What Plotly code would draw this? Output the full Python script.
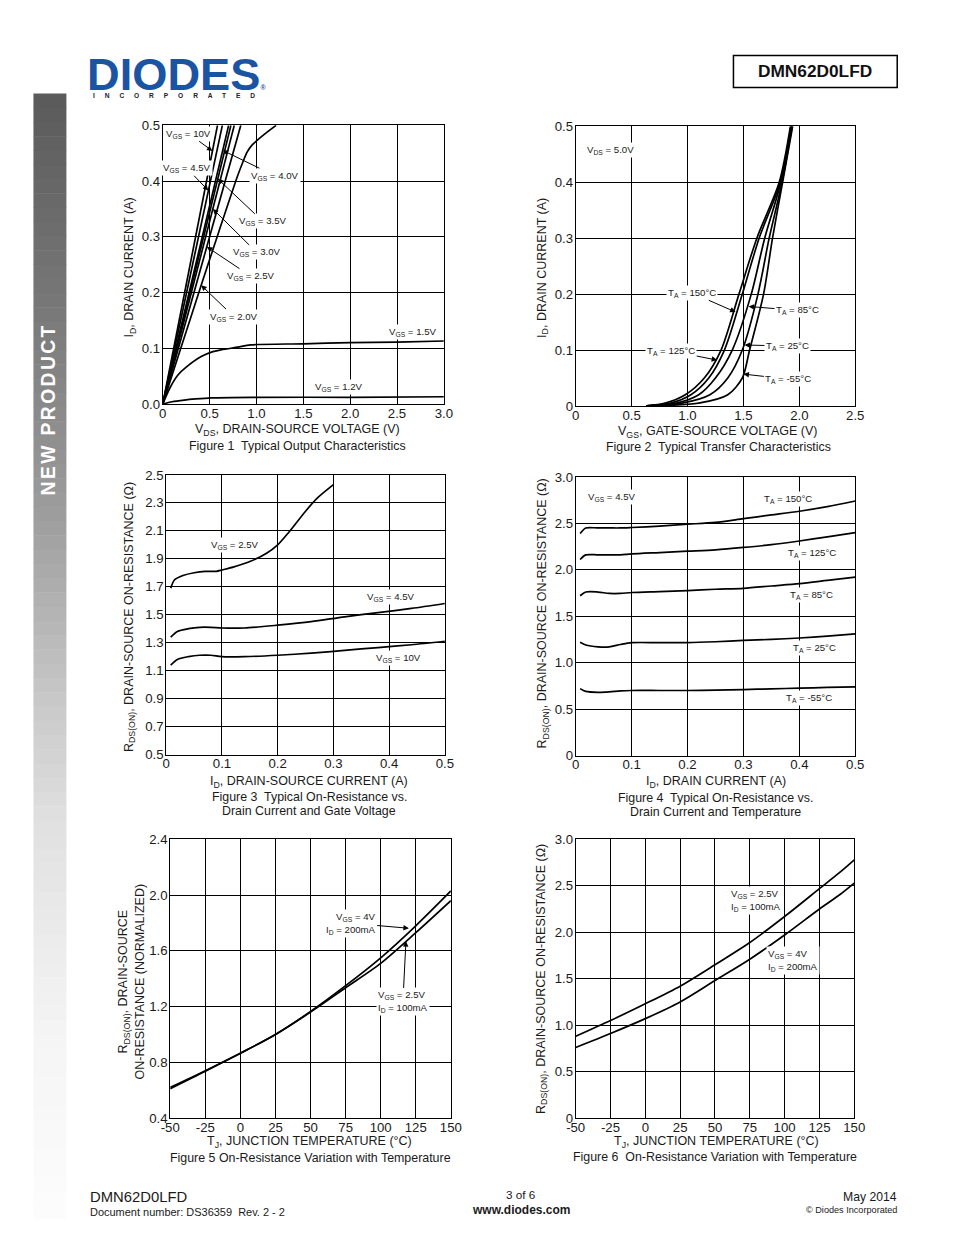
import plotly.graph_objects as go

# page is 954x1235; the browser adds an 8px body margin, so the figure is 938x1219
OFF = 8
W, H = 954 - 2 * OFF, 1235 - 2 * OFF
# measured photo transform (photo = S * page + O); positions below are photo targets
SX, OX = 0.979, 8.7
SY, OY = 0.989, 6.6
FS = 1 / 0.984
FONT = "Liberation Sans, Arial, sans-serif"
TXT = "#1a1a1a"

# ---------------- data ----------------
# Figure 1: Typical output characteristics (VDS [V], ID [A])
f1_vds_10v = [0, 0.584];  f1_id_10v = [0, 0.5]
f1_vds_4v5 = [0, 0.636];  f1_id_4v5 = [0, 0.5]
f1_vds_4v0 = [0, 0.703];  f1_id_4v0 = [0, 0.5]
f1_vds_3v5 = [0, 0.727];  f1_id_3v5 = [0, 0.5]
f1_vds_3v0 = [0, 0.763];  f1_id_3v0 = [0, 0.5]
f1_vds_2v5 = [0, 0.833];  f1_id_2v5 = [0, 0.5]
f1_vds_2v0 = [0, 0.2, 0.41, 0.6, 0.8, 0.85, 0.9, 0.95, 1.0, 1.1, 1.21]
f1_id_2v0 = [0, 0.104, 0.213, 0.31, 0.41, 0.432, 0.452, 0.464, 0.472, 0.486, 0.5]
f1_vds_1v5 = [0, 0.08, 0.162, 0.25, 0.41, 0.52, 0.62, 0.8, 0.94, 1.5, 2.0, 2.5, 3.0]
f1_id_1v5 = [0, 0.03, 0.052, 0.066, 0.085, 0.093, 0.097, 0.102, 0.106, 0.108, 0.110, 0.111, 0.113]
f1_vds_1v2 = [0, 0.1, 0.23, 0.35, 0.52, 1.0, 2.0, 3.0]
f1_id_1v2 = [0, 0.004, 0.007, 0.009, 0.011, 0.012, 0.012, 0.013]

# Figure 2: Typical transfer characteristics (VGS [V], ID [A])
f2_id = [0, 0.005, 0.02, 0.05, 0.1, 0.2, 0.3, 0.4, 0.5]
f2_vgs_150 = [0.63, 0.80, 0.98, 1.15, 1.30, 1.46, 1.62, 1.82, 1.92]
f2_vgs_125 = [0.63, 0.85, 1.03, 1.19, 1.33, 1.49, 1.64, 1.83, 1.925]
f2_vgs_85 = [0.63, 0.90, 1.10, 1.25, 1.40, 1.57, 1.69, 1.835, 1.93]
f2_vgs_25 = [0.63, 0.95, 1.20, 1.36, 1.49, 1.63, 1.73, 1.845, 1.935]
f2_vgs_m55 = [0.63, 1.10, 1.36, 1.49, 1.555, 1.68, 1.76, 1.85, 1.94]

# Figure 3: RDS(on) vs ID and VGS
f3_id_2v5 = [0.008, 0.015, 0.03, 0.05, 0.07, 0.09, 0.1, 0.12, 0.15, 0.18, 0.2, 0.22, 0.25, 0.27, 0.3]
f3_r_2v5 = [1.69, 1.75, 1.78, 1.80, 1.81, 1.81, 1.82, 1.84, 1.88, 1.94, 2.00, 2.09, 2.24, 2.33, 2.43]
f3_id = [0.008, 0.02, 0.04, 0.06, 0.08, 0.1, 0.14, 0.2, 0.26, 0.32, 0.38, 0.44, 0.5]
f3_r_4v5 = [1.34, 1.38, 1.40, 1.41, 1.41, 1.405, 1.405, 1.425, 1.45, 1.485, 1.515, 1.545, 1.58]
f3_r_10v = [1.14, 1.18, 1.20, 1.21, 1.21, 1.20, 1.20, 1.21, 1.225, 1.245, 1.265, 1.285, 1.31]

# Figure 4: RDS(on) vs ID and temperature
f4_id = [0.008, 0.018, 0.04, 0.06, 0.08, 0.1, 0.15, 0.2, 0.25, 0.3, 0.35, 0.4, 0.45, 0.5]
f4_r_150 = [2.39, 2.45, 2.45, 2.45, 2.45, 2.455, 2.47, 2.49, 2.51, 2.55, 2.59, 2.63, 2.68, 2.74]
f4_r_125 = [2.11, 2.16, 2.16, 2.16, 2.16, 2.17, 2.185, 2.20, 2.215, 2.24, 2.27, 2.31, 2.355, 2.40]
f4_r_85 = [1.72, 1.76, 1.76, 1.745, 1.745, 1.755, 1.765, 1.775, 1.79, 1.80, 1.825, 1.85, 1.885, 1.92]
f4_r_25 = [1.22, 1.19, 1.17, 1.17, 1.195, 1.215, 1.215, 1.215, 1.225, 1.24, 1.25, 1.265, 1.285, 1.31]
f4_r_m55 = [0.72, 0.69, 0.68, 0.685, 0.695, 0.70, 0.70, 0.70, 0.705, 0.71, 0.718, 0.725, 0.733, 0.74]

# Figure 5: normalized RDS(on) vs temperature
f5_tj = [-50, -25, 0, 25, 50, 75, 100, 125, 150]
f5_r_4v = [0.61, 0.735, 0.865, 1.0, 1.165, 1.35, 1.55, 1.78, 2.03]
f5_r_2v5 = [0.62, 0.74, 0.865, 1.0, 1.16, 1.335, 1.51, 1.73, 1.96]

# Figure 6: RDS(on) vs temperature
f6_tj = [-50, -25, 0, 25, 50, 75, 100, 125, 140, 150]
f6_r_2v5 = [0.88, 1.05, 1.23, 1.42, 1.65, 1.89, 2.17, 2.47, 2.65, 2.78]
f6_r_4v = [0.76, 0.91, 1.07, 1.25, 1.48, 1.71, 1.97, 2.25, 2.41, 2.53]

# tick labels
t1x = [0, 0.5, 1.0, 1.5, 2.0, 2.5, 3.0]; t1xl = ["0", "0.5", "1.0", "1.5", "2.0", "2.5", "3.0"]
t1y = [0, 0.1, 0.2, 0.3, 0.4, 0.5]; t1yl = ["0.0", "0.1", "0.2", "0.3", "0.4", "0.5"]
t2x = [0, 0.5, 1.0, 1.5, 2.0, 2.5]; t2xl = ["0", "0.5", "1.0", "1.5", "2.0", "2.5"]
t2y = [0, 0.1, 0.2, 0.3, 0.4, 0.5]; t2yl = ["0", "0.1", "0.2", "0.3", "0.4", "0.5"]
t3x = [0, 0.1, 0.2, 0.3, 0.4, 0.5]; t3xl = ["0", "0.1", "0.2", "0.3", "0.4", "0.5"]
t3y = [0.5, 0.7, 0.9, 1.1, 1.3, 1.5, 1.7, 1.9, 2.1, 2.3, 2.5]
t3yl = ["0.5", "0.7", "0.9", "1.1", "1.3", "1.5", "1.7", "1.9", "2.1", "2.3", "2.5"]
t4y = [0, 0.5, 1.0, 1.5, 2.0, 2.5, 3.0]; t4yl = ["0", "0.5", "1.0", "1.5", "2.0", "2.5", "3.0"]
t5x = [-50, -25, 0, 25, 50, 75, 100, 125, 150]
t5xl = ["-50", "-25", "0", "25", "50", "75", "100", "125", "150"]
t5y = [0.4, 0.8, 1.2, 1.6, 2.0, 2.4]; t5yl = ["0.4", "0.8", "1.2", "1.6", "2.0", "2.4"]

# ---------------- layout helpers ----------------
def page_x(p):
    return (p - OX) / SX

def page_y(p):
    return (p - OY) / SY

def px_x(p):
    return (page_x(p) - OFF) / W

def px_y(p):
    return 1 - (page_y(p) - OFF) / H

def fs(s):
    return round(s * FS, 2)

fig = go.Figure()
layout = dict(width=W, height=H, margin=dict(l=0, r=0, t=0, b=0),
              paper_bgcolor="white", plot_bgcolor="white", showlegend=False,
              font=dict(family=FONT, color=TXT))
annotations = []
shapes = []

def add_axes(n, box, xr, yr, xt, xtl, yt, ytl):
    x0, x1, y0, y1 = box
    xs = "xaxis" if n == 1 else f"xaxis{n}"
    ys = "yaxis" if n == 1 else f"yaxis{n}"
    common = dict(showgrid=True, gridcolor="black", gridwidth=1, showline=True,
                  linecolor="black", linewidth=1, mirror=True, ticks="",
                  zeroline=False, fixedrange=True,
                  tickfont=dict(family=FONT, size=fs(13), color=TXT))
    layout[xs] = dict(domain=[px_x(x0), px_x(x1)], range=xr, tickvals=xt, ticktext=xtl,
                      anchor="y" if n == 1 else f"y{n}", ticklabelstandoff=-3, **common)
    layout[ys] = dict(domain=[px_y(y1), px_y(y0)], range=yr, tickvals=yt, ticktext=ytl,
                      anchor="x" if n == 1 else f"x{n}", ticklabelstandoff=-1, **common)

def line(n, x, y, shape="linear"):
    xa = "x" if n == 1 else f"x{n}"
    ya = "y" if n == 1 else f"y{n}"
    fig.add_trace(go.Scatter(x=x, y=y, mode="lines", xaxis=xa, yaxis=ya,
                             line=dict(color="black", width=1.7, shape=shape, smoothing=0.8),
                             hoverinfo="skip"))

def label(n, x, y, text, ax=None, ay=None, xanchor="center", align="center", size=9.5):
    xa = "x" if n == 1 else f"x{n}"
    ya = "y" if n == 1 else f"y{n}"
    a = dict(xref=xa, yref=ya, x=x, y=y, text=text,
             font=dict(family=FONT, size=fs(size), color=TXT),
             bgcolor="white", borderpad=1, xanchor=xanchor, align=align)
    if ax is None:
        a["showarrow"] = False
    else:
        a.update(showarrow=True, ax=ax / SX, ay=ay / SY, arrowhead=2, arrowsize=1.1,
                 arrowwidth=1, arrowcolor="black", standoff=0)
    annotations.append(a)

def ptext(px, py, text, size=12.3, angle=0, xanchor="center", bold=False, color=TXT,
          align="center", height=None):
    a = dict(xref="paper", yref="paper", x=px_x(px), y=px_y(py), text=text,
             showarrow=False, textangle=angle, xanchor=xanchor, yanchor="middle",
             align=align,
             font=dict(family=FONT, size=fs(size), color=color,
                       weight="bold" if bold else "normal"))
    if height is not None:
        a["height"] = height
        a["valign"] = "middle"
    annotations.append(a)

# ---------------- Figure 1 ----------------
add_axes(1, (161.5, 443, 125, 404), [0, 3.0], [0, 0.5], t1x, t1xl, t1y, t1yl)
for xv, yv in [(f1_vds_10v, f1_id_10v), (f1_vds_4v5, f1_id_4v5), (f1_vds_4v0, f1_id_4v0),
               (f1_vds_3v5, f1_id_3v5), (f1_vds_3v0, f1_id_3v0), (f1_vds_2v5, f1_id_2v5)]:
    line(1, xv, yv)
line(1, f1_vds_2v0, f1_id_2v0, "spline")
line(1, f1_vds_1v5, f1_id_1v5, "spline")
line(1, f1_vds_1v2, f1_id_1v2, "spline")
VGS = "V<sub>GS</sub> = "
label(1, 0.53, 0.454, VGS + "10V", -23, -17)
label(1, 0.487, 0.383, VGS + "4.5V", -21, -22)
label(1, 0.64, 0.455, VGS + "4.0V", 51, 25)
label(1, 0.587, 0.404, VGS + "3.5V", 44, 42)
label(1, 0.534, 0.35, VGS + "3.0V", 43, 43)
label(1, 0.47, 0.282, VGS + "2.5V", 43, 29)
label(1, 0.41, 0.213, VGS + "2.0V", 32, 31)
label(1, 2.67, 0.129, VGS + "1.5V")
label(1, 1.886, 0.03, VGS + "1.2V")

# ---------------- Figure 2 ----------------
add_axes(2, (575, 855, 126, 406), [0, 2.5], [0, 0.5], t2x, t2xl, t2y, t2yl)
for xv in [f2_vgs_150, f2_vgs_125, f2_vgs_85, f2_vgs_25, f2_vgs_m55]:
    line(2, xv, f2_id, "spline")
TA = "T<sub>A</sub> = "
label(2, 0.08, 0.457, "V<sub>DS</sub> = 5.0V", xanchor="left")
label(2, 1.43, 0.168, TA + "150°C", -43, -19)
label(2, 1.265, 0.082, TA + "125°C", -45, -9)
label(2, 1.545, 0.178, TA + "85°C", 48, 4)
label(2, 1.51, 0.109, TA + "25°C", 42, 1)
label(2, 1.50, 0.057, TA + "-55°C", 44, 5)

# ---------------- Figure 3 ----------------
add_axes(3, (165, 444, 475, 755), [0, 0.5], [0.5, 2.5], t3x, t3xl, t3y, t3yl)
line(3, f3_id_2v5, f3_r_2v5, "spline")
line(3, f3_id, f3_r_4v5, "spline")
line(3, f3_id, f3_r_10v, "spline")
label(3, 0.124, 2.0, VGS + "2.5V")
label(3, 0.403, 1.629, VGS + "4.5V")
label(3, 0.416, 1.193, VGS + "10V")

# ---------------- Figure 4 ----------------
add_axes(4, (575, 855, 477, 756), [0, 0.5], [0, 3.0], t3x, t3xl, t4y, t4yl)
for yv in [f4_r_150, f4_r_125, f4_r_85, f4_r_25, f4_r_m55]:
    line(4, f4_id, yv, "spline")
label(4, 0.018, 2.785, "V<sub>GS</sub> = 4.5V", xanchor="left")
label(4, 0.379, 2.763, TA + "150°C")
label(4, 0.423, 2.183, TA + "125°C")
label(4, 0.421, 1.731, TA + "85°C")
label(4, 0.427, 1.161, TA + "25°C")
label(4, 0.418, 0.624, TA + "-55°C")

# ---------------- Figure 5 ----------------
add_axes(5, (169, 450, 840, 1119), [-50, 150], [0.4, 2.4], t5x, t5xl, t5y, t5yl)
line(5, f5_tj, f5_r_4v, "spline")
line(5, f5_tj, f5_r_2v5, "spline")
label(5, 120.1, 1.762, "V<sub>GS</sub> = 4V<br>I<sub>D</sub> = 200mA", -57, -5, align="right")
label(5, 118, 1.669, "V<sub>GS</sub> = 2.5V<br>I<sub>D</sub> = 100mA", -3, 60, align="left")

# ---------------- Figure 6 ----------------
add_axes(6, (575, 854, 840, 1119), [-50, 150], [0, 3.0], t5x, t5xl, t4y, t4yl)
line(6, f6_tj, f6_r_2v5, "spline")
line(6, f6_tj, f6_r_4v, "spline")
label(6, 79.7, 2.344, "V<sub>GS</sub> = 2.5V<br>I<sub>D</sub> = 100mA", align="left")
label(6, 106.3, 1.694, "V<sub>GS</sub> = 4V<br>I<sub>D</sub> = 200mA", align="left")

# ---------------- axis titles & captions ----------------
ptext(296, 430, "V<sub>DS</sub>, DRAIN-SOURCE VOLTAGE (V)")
ptext(718, 432, "V<sub>GS</sub>, GATE-SOURCE VOLTAGE (V)")
ptext(308, 783, "I<sub>D</sub>, DRAIN-SOURCE CURRENT (A)")
ptext(716, 783, "I<sub>D</sub>, DRAIN CURRENT (A)")
ptext(308, 1143, "T<sub>J</sub>, JUNCTION TEMPERATURE (°C)")
ptext(716, 1143, "T<sub>J</sub>, JUNCTION TEMPERATURE (°C)")

ptext(296, 446, "Figure 1  Typical Output Characteristics", size=12.2)
ptext(718, 447, "Figure 2  Typical Transfer Characteristics", size=12.2)
ptext(308, 798, "Figure 3  Typical On-Resistance vs.", size=12.2)
ptext(308, 812, "Drain Current and Gate Voltage", size=12.2)
ptext(715, 799, "Figure 4  Typical On-Resistance vs.", size=12.2)
ptext(715, 813, "Drain Current and Temperature", size=12.2)
ptext(309, 1159, "Figure 5 On-Resistance Variation with Temperature", size=12.2)
ptext(715, 1158, "Figure 6  On-Resistance Variation with Temperature", size=12.2)

ptext(129, 267, "I<sub>D</sub>, DRAIN CURRENT (A)", angle=-90)
ptext(542, 268, "I<sub>D</sub>, DRAIN CURRENT (A)", angle=-90)
ptext(128, 617, "R<sub>DS(ON)</sub>, DRAIN-SOURCE ON-RESISTANCE (Ω)", angle=-90)
ptext(542, 614, "R<sub>DS(ON)</sub>, DRAIN-SOURCE ON-RESISTANCE (Ω)", angle=-90)
ptext(123, 982, "R<sub>DS(ON)</sub>, DRAIN-SOURCE", angle=-90)
ptext(139, 982, "ON-RESISTANCE (NORMALIZED)", angle=-90)
ptext(541, 980, "R<sub>DS(ON)</sub>, DRAIN-SOURCE ON-RESISTANCE (Ω)", angle=-90)

# ---------------- page decorations ----------------
# sidebar gradient
stops = [(93, 90), (309, 120), (528, 160), (700, 200), (820, 224), (1040, 245), (1235, 253)]
def gray_at(y):
    for (ya, ga), (yb, gb) in zip(stops[:-1], stops[1:]):
        if ya <= y <= yb:
            return ga + (gb - ga) * (y - ya) / (yb - ya)
    return stops[-1][1]
nb = 80
y_end = 1235
step = (y_end - 93) / nb
for i in range(nb):
    y0 = 93 + i * step
    g = int(round(gray_at(y0 + step / 2)))
    shapes.append(dict(type="rect", xref="paper", yref="paper", x0=px_x(32), x1=px_x(65),
                       y0=max(px_y(y0 + step + 0.5), 0), y1=px_y(y0), line=dict(width=0),
                       fillcolor=f"rgb({g},{g},{g})", layer="below"))
ptext(48, 409, '<span style="letter-spacing:2.4px">NEW PRODUCT</span>', size=19, angle=-90,
      bold=True, color="white")

# logo
ptext(84, 74, 'DIODES<span style="font-size:7px">®</span>', size=44.5, xanchor="left",
      bold=True, color="#1b54a2", height=36)
ptext(90, 95.5, '<span style="letter-spacing:9.9px">INCORPORATED</span>', size=6.5,
      xanchor="left", bold=True, color="#222222")

# part-number box
shapes.append(dict(type="rect", xref="paper", yref="paper", x0=px_x(733), x1=px_x(897),
                   y0=px_y(87), y1=px_y(55), line=dict(color="black", width=1.5)))
ptext(815, 71, "DMN62D0LFD", size=17, bold=True, color="#111111")

# footer
ptext(87, 1198, "DMN62D0LFD", size=14.6, xanchor="left")
ptext(87, 1213, "Document number: DS36359  Rev. 2 - 2", size=10.8, xanchor="left")
ptext(520, 1196, "3 of 6", size=11.5)
ptext(520, 1211, "www.diodes.com", size=11.8, bold=True)
ptext(899, 1198, "May 2014", size=12, xanchor="right")
ptext(899, 1211, "© Diodes Incorporated", size=9, xanchor="right")

layout["annotations"] = annotations
layout["shapes"] = shapes
fig.update_layout(**layout)

fig.write_html("out.html", include_plotlyjs=True, config={"displayModeBar": False})
